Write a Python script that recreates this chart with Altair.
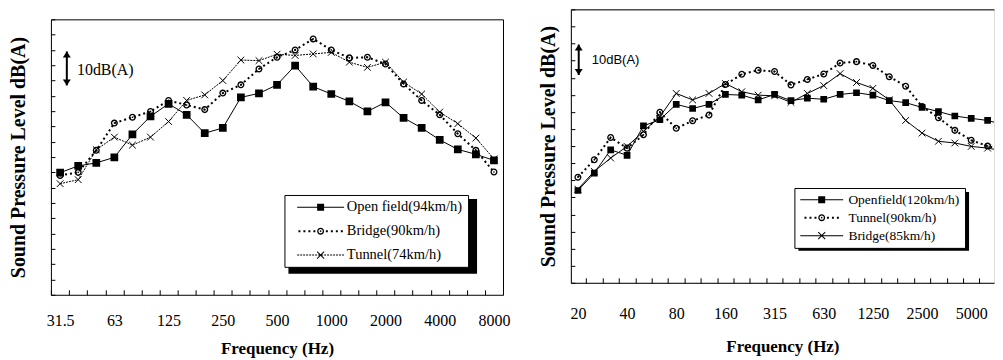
import altair as alt
import pandas as pd

# ---------------- data ----------------
freqs_left = ["31.5", "40", "50", "63", "80", "100", "125", "160", "200", "250", "315", "400", "500",
              "630", "800", "1000", "1250", "1600", "2000", "2500", "3150", "4000", "5000", "6300", "8000"]
series_left = ["Open field(94km/h)", "Bridge(90km/h)", "Tunnel(74km/h)"]
left_open = [59.9, 62.1, 63.1, 64.9, 72.4, 78.3, 82.4, 78.8, 72.8, 74.5, 84.5, 85.8, 88.6,
             94.9, 88.0, 85.6, 83.2, 79.9, 82.9, 77.8, 74.5, 70.6, 67.5, 65.9, 63.9]
left_bridge = [59.0, 60.0, 67.2, 76.1, 78.0, 79.9, 83.5, 82.0, 80.5, 85.9, 88.6, 93.8, 97.6,
               100.0, 103.6, 100.0, 97.4, 97.6, 95.4, 88.9, 83.5, 78.8, 72.6, 67.2, 60.1]
left_tunnel = [56.3, 57.6, 67.4, 71.5, 68.9, 71.5, 76.6, 83.5, 85.3, 90.0, 96.7, 96.5, 98.6,
               98.2, 98.7, 99.2, 96.0, 94.3, 96.0, 89.5, 85.6, 79.7, 75.9, 71.2, 64.4]

freqs_right = ["20", "25", "31.5", "40", "50", "63", "80", "100", "125", "160", "200", "250", "315",
               "400", "500", "630", "800", "1000", "1250", "1600", "2000", "2500", "3150", "4000",
               "5000", "6300", "8000"]
series_right = ["Openfield(120km/h)", "Tunnel(90km/h)", "Bridge(85km/h)"]
right_open = [47.0, 52.1, 58.9, 57.3, 65.9, 67.7, 72.2, 71.0, 72.2, 75.1, 74.9, 73.5, 75.1,
              73.3, 74.0, 73.7, 75.1, 75.6, 74.9, 73.3, 72.7, 71.3, 70.1, 68.8, 68.1, 67.5, 66.2]
right_tunnel = [50.9, 56.0, 62.5, 59.4, 63.3, 69.9, 65.2, 67.4, 69.1, 78.0, 81.0, 82.2, 81.8,
                77.9, 79.5, 81.1, 84.3, 84.7, 83.6, 80.3, 77.5, 71.6, 68.3, 64.6, 61.7, 60.0, 58.9]
right_bridge = [47.4, 52.6, 56.5, 59.9, 64.3, 68.6, 75.4, 73.5, 75.4, 78.3, 75.9, 74.9, 74.7,
                72.8, 75.4, 77.7, 81.2, 78.6, 76.9, 73.5, 67.5, 63.8, 61.4, 60.9, 59.9, 59.4, 58.6]

# 10 dB scale-bar annotation (x in band index units, y in dB)
bar_label = ["10dB(A)"]
left_bar_x, left_bar_lo, left_bar_hi = [0.37], [88.4], [99.5]
left_text_x, left_text_y = [0.93], [93.6]
right_bar_x, right_bar_lo, right_bar_hi = [0.05], [80.8], [89.7]
right_text_x, right_text_y = [0.85], [85.1]

SERIF = "Liberation Serif"
SANS = "Liberation Sans"

SQUARE = "square"
XMARK = "M-1,-1L1,1M-1,1L1,-1"


# ---------- symbol path helpers (filled geometry only) ----------
def f3(v):
    return f"{v:.3f}"


def rect(x0, x1, y0, y1):
    return f"M{f3(x0)},{f3(y0)}H{f3(x1)}V{f3(y1)}H{f3(x0)}Z"


def poly(pts):
    area = sum(pts[i][0] * pts[(i + 1) % len(pts)][1] - pts[(i + 1) % len(pts)][0] * pts[i][1]
               for i in range(len(pts)))
    if area < 0:
        pts = pts[::-1]
    return "M" + "L".join(f"{f3(x)},{f3(y)}" for x, y in pts) + "Z"


def ring(m):
    i = m * 0.62
    d = m * 0.25
    return (f"M{f3(m)},0A{f3(m)},{f3(m)},0,1,1,{f3(-m)},0A{f3(m)},{f3(m)},0,1,1,{f3(m)},0Z"
            f"M{f3(i)},0A{f3(i)},{f3(i)},0,1,0,{f3(-i)},0A{f3(i)},{f3(i)},0,1,0,{f3(i)},0Z"
            f"M{f3(d)},0A{f3(d)},{f3(d)},0,1,1,{f3(-d)},0A{f3(d)},{f3(d)},0,1,1,{f3(d)},0Z")


def xmark(m, h):
    k = h / 2 ** 0.5
    a = poly([(-m - k, -m + k), (m - k, m + k), (m + k, m - k), (-m + k, -m - k)])
    b = poly([(-m - k, m - k), (m - k, -m - k), (m + k, -m + k), (-m + k, m + k)])
    return a + b


def solid(L, h=0.1):
    return rect(-L, L, -h, h)


def dotted(L, start, size=0.4, period=1.0):
    out, x = "", start
    while x + size <= L + 1e-9:
        out += rect(x, x + size, -size / 2, size / 2) + rect(-x - size, -x, -size / 2, size / 2)
        x += period
    return out


def dashed(L, dash=0.4, period=0.6, h=0.1):
    out, x = "", -L
    while x < L - 1e-9:
        out += rect(x, min(x + dash, L), -h, h)
        x += period
    return out


def leg_path(kind, L, m):
    if kind == "solid-square":
        return solid(L) + rect(-m, m, -m, m)
    if kind == "dotted-ring":
        return dotted(L, m + 0.35) + ring(m)
    if kind == "dashed-x":
        return dashed(L) + xmark(m, 0.1)
    return solid(L) + xmark(m, 0.1)


RING = ring(1.0)


def make_panel(freqs, series, values, styles, xdom, ydom, width, height, opts):
    rows = []
    for name, vals in zip(series, values):
        for i, v in enumerate(vals):
            rows.append({"idx": i, "freq": freqs[i], "series": name, "spl": v})
    df = pd.DataFrame(rows)
    n = len(freqs)
    xs = alt.Scale(domain=xdom, nice=False, zero=False)
    ys = alt.Scale(domain=ydom, nice=False, zero=False)

    label_expr = "[" + ",".join("'%s'" % f for f in freqs) + "][datum.value]"
    label_axis = alt.Axis(orient="bottom", values=list(range(0, n, 3)), labelExpr=label_expr,
                          ticks=False, domain=opts["domain"], domainColor="black", grid=False,
                          labelFont=SERIF, labelFontSize=16, labelColor="black",
                          labelPadding=opts["labelPadding"], labelFlush=False, labelOverlap=False,
                          title="Frequency (Hz)", titleFont=SERIF, titleFontSize=17,
                          titleFontWeight="bold", titleColor="black",
                          titlePadding=opts["xTitlePadding"])
    tick_vals = [i - 0.5 for i in range(n + 1) if xdom[0] <= i - 0.5 <= xdom[1]]
    tick_axis_x = alt.Axis(orient="bottom", values=tick_vals, labels=False, ticks=True, tickSize=5,
                           tickColor="black", domain=False, grid=False, title=None, offset=-5)
    y_axis = alt.Axis(orient="left", labels=False, ticks=False, domain=opts["domain"],
                      domainColor="black", grid=False, title="Sound Pressure Level dB(A)",
                      titleFont=SERIF, titleFontSize=20, titleFontWeight="bold", titleColor="black",
                      titlePadding=opts["yTitlePadding"])
    tick_axis_y = alt.Axis(orient="left", values=list(range(int(ydom[0]), int(ydom[1]) + 1, 5)),
                           labels=False, ticks=True, tickSize=4, tickColor="black", domain=False,
                           grid=False, title=None, offset=-4)
    top_axis = alt.Axis(orient="top", labels=False, ticks=False, domain=True, domainColor="black",
                        grid=False, title=None)

    layers = []
    for k, (name, st) in enumerate(zip(series, styles)):
        sub = alt.Chart(df).transform_filter(alt.datum.series == name)
        if k == 0:
            xa, ya = label_axis, y_axis
        elif k == 1 and opts["top_axis"]:
            xa, ya = top_axis, None
        else:
            xa, ya = None, None
        line_kw = dict(color="black", strokeWidth=st["width"], clip=True)
        if st.get("dash"):
            line_kw["strokeDash"] = st["dash"]
        layers.append(sub.mark_line(**line_kw).encode(
            x=alt.X("idx:Q", scale=xs, axis=xa),
            y=alt.Y("spl:Q", scale=ys, axis=ya)))
        pt_kw = dict(shape=st["shape"], size=st["size"], color="black", opacity=1, clip=True,
                     filled=st["filled"])
        pt_kw["strokeWidth"] = 0 if st["filled"] else 1
        layers.append(sub.mark_point(**pt_kw).encode(
            x=alt.X("idx:Q", scale=xs, axis=tick_axis_x if k == 0 else None),
            y=alt.Y("spl:Q", scale=ys, axis=tick_axis_y if k == 0 else None)))

    # scale bar arrow + text
    bar = pd.DataFrame({"x": opts["bar_x"], "lo": opts["bar_lo"], "hi": opts["bar_hi"]})
    layers.append(alt.Chart(bar).mark_rule(color="black", strokeWidth=2).encode(
        x=alt.X("x:Q", scale=xs, axis=None), y=alt.Y("lo:Q", scale=ys, axis=None), y2="hi:Q"))
    layers.append(alt.Chart(bar).mark_point(shape="M0,0L1,1.5L-1,1.5Z", size=64, filled=True,
                                            color="black", opacity=1, strokeWidth=0).encode(
        x=alt.X("x:Q", scale=xs, axis=None), y=alt.Y("hi:Q", scale=ys, axis=None)))
    layers.append(alt.Chart(bar).mark_point(shape="M0,0L1,-1.5L-1,-1.5Z", size=64, filled=True,
                                            color="black", opacity=1, strokeWidth=0).encode(
        x=alt.X("x:Q", scale=xs, axis=None), y=alt.Y("lo:Q", scale=ys, axis=None)))
    txt = pd.DataFrame({"x": opts["text_x"], "y": opts["text_y"], "t": bar_label})
    layers.append(alt.Chart(txt).mark_text(align="left", baseline="middle", font=opts["bar_font"],
                                           fontSize=opts["bar_size"], color="black").encode(
        x=alt.X("x:Q", scale=xs, axis=None), y=alt.Y("y:Q", scale=ys, axis=None), text="t:N"))

    # legend shadow (offset black box behind the legend frame)
    lx, ly, lw, lh = opts["legend_box"]
    layers.append(alt.Chart(pd.DataFrame({"a": [0]})).mark_rect(color="black").encode(
        x=alt.value(lx + 4), x2=alt.value(lx + lw + 4), y=alt.value(ly + 4), y2=alt.value(ly + lh + 4)))

    # legend carrier (no marks drawn, only the legend)
    L, m = opts["leg_L"], opts["leg_m"]
    paths = [leg_path(st["legkind"], L, m) for st in styles]
    legend = alt.Legend(orient="none", legendX=lx, legendY=ly, title=None, padding=5,
                        strokeColor="black", fillColor="white", labelFont=SERIF,
                        labelFontSize=opts["leg_font"], labelColor="black", symbolSize=100,
                        symbolOffset=opts["symbolOffset"], labelOffset=opts["labelOffset"],
                        rowPadding=opts["rowPadding"], symbolFillColor="black",
                        symbolStrokeWidth=0, labelExpr=opts["labelExpr"])
    layers.append(alt.Chart(df).transform_filter("false").mark_point(
        filled=True, color="black", strokeWidth=0, opacity=1, size=100).encode(
        shape=alt.Shape("series:N", scale=alt.Scale(domain=series, range=paths), legend=legend)))

    ch = alt.layer(*layers).resolve_axis(x="independent", y="independent").properties(
        width=width, height=height)
    return ch


left_styles = [
    dict(width=1, shape=SQUARE, size=60, filled=True, legkind="solid-square"),
    dict(width=2, dash=[2, 3], shape=RING, size=50, filled=True, legkind="dotted-ring"),
    dict(width=1, dash=[2, 1], shape=XMARK, size=45, filled=False, legkind="dashed-x"),
]
right_styles = [
    dict(width=1, shape=SQUARE, size=45, filled=True, legkind="solid-square"),
    dict(width=2, dash=[2, 3], shape=RING, size=50, filled=True, legkind="dotted-ring"),
    dict(width=1, shape=XMARK, size=45, filled=False, legkind="solid-x"),
]

left = make_panel(freqs_left, series_left, [left_open, left_bridge, left_tunnel], left_styles,
                  [-0.51, 24.5], [20, 110], 453, 276,
                  dict(domain=False, labelPadding=18, xTitlePadding=12, yTitlePadding=22,
                       top_axis=False, bar_x=left_bar_x, bar_lo=left_bar_lo, bar_hi=left_bar_hi,
                       text_x=left_text_x, text_y=left_text_y, bar_font=SERIF, bar_size=16,
                       legend_box=(234, 176, 189, 75), leg_L=4.7, leg_m=0.7, leg_font=14.5,
                       symbolOffset=24, labelOffset=19, rowPadding=9,
                       labelExpr="datum.label + '\u2002'")
                  ).properties(view=alt.ViewBackground(stroke="black", strokeWidth=1))

# a blank strip above the left panel so that its frame sits lower than the right one
spacer = alt.Chart(pd.DataFrame({"a": [0]})).mark_rect(opacity=0).encode(
    x=alt.value(0), x2=alt.value(1), y=alt.value(1), y2=alt.value(2)
).properties(width=10, height=9, view=alt.ViewBackground(strokeOpacity=0))
left_col = alt.vconcat(spacer, left, spacing=0).resolve_scale(shape="independent")

right = make_panel(freqs_right, series_right, [right_open, right_tunnel, right_bridge], right_styles,
                   [-0.43, 25.39], [20, 100], 424, 274,
                   dict(domain=True, labelPadding=23, xTitlePadding=17, yTitlePadding=12,
                        top_axis=True, bar_x=right_bar_x, bar_lo=right_bar_lo, bar_hi=right_bar_hi,
                        text_x=right_text_x, text_y=right_text_y, bar_font=SANS, bar_size=13,
                        legend_box=(224, 179, 171, 59), leg_L=4.3, leg_m=0.7, leg_font=13.5,
                        symbolOffset=15.6, labelOffset=20, rowPadding=3,
                        labelExpr="datum.label"))

chart = alt.hconcat(left_col, right, spacing=27).resolve_scale(shape="independent").properties(
    padding={"left": 0, "top": 0, "right": 0, "bottom": 0}
).configure_view(strokeWidth=0).configure(background="white")

chart.save("out.html", embed_options={"renderer": "svg", "actions": False})
